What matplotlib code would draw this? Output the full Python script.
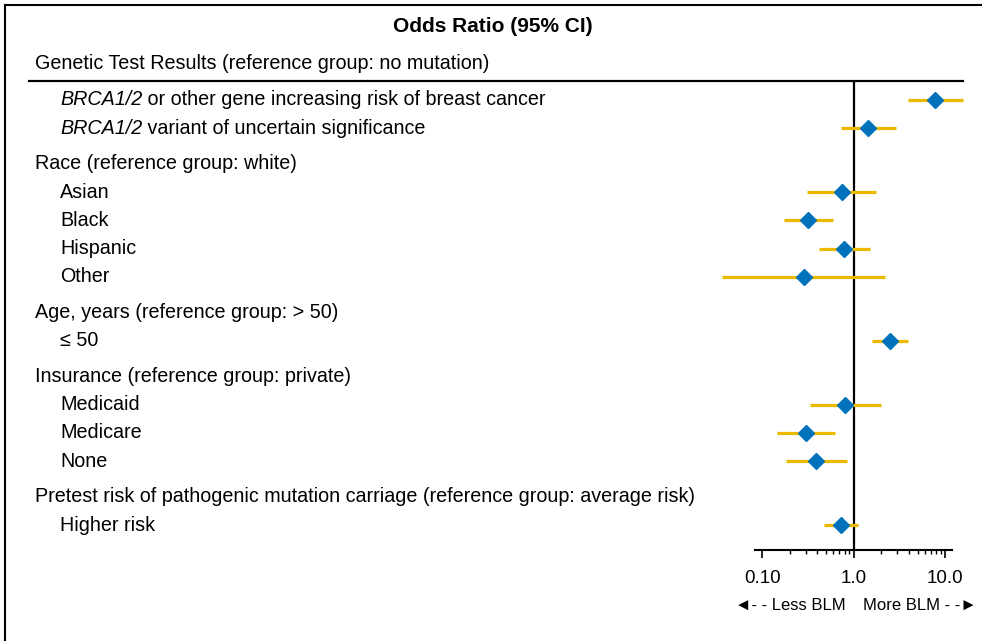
import matplotlib
matplotlib.use("Agg")
import matplotlib.pyplot as plt
import matplotlib.transforms as mtransforms
from matplotlib.lines import Line2D
from matplotlib.ticker import FixedLocator, NullFormatter

plt.rcParams['font.family'] = ['Liberation Sans', 'DejaVu Sans']

# groups with their items, odds ratio and 95% CI
group_titles = [
    "Genetic Test Results (reference group: no mutation)",
    "Race (reference group: white)",
    "Age, years (reference group: > 50)",
    "Insurance (reference group: private)",
    "Pretest risk of pathogenic mutation carriage (reference group: average risk)",
]
# (italic part, plain part)
group_items = [
    [("BRCA1/2", " or other gene increasing risk of breast cancer"),
     ("BRCA1/2", " variant of uncertain significance")],
    [("", "Asian"), ("", "Black"), ("", "Hispanic"), ("", "Other")],
    [("", "\u2264 50")],
    [("", "Medicaid"), ("", "Medicare"), ("", "None")],
    [("", "Higher risk")],
]
odds_ratio = [7.7, 1.44, 0.74, 0.32, 0.79, 0.284, 2.49, 0.80, 0.30, 0.39, 0.73]
ci_low = [3.9, 0.72, 0.31, 0.173, 0.42, 0.036, 1.6, 0.33, 0.145, 0.18, 0.47]
ci_high = [15.5, 2.9, 1.75, 0.59, 1.51, 2.22, 3.92, 1.99, 0.625, 0.845, 1.12]
tick_vals = [0.1, 1.0, 10.0]
tick_labels = ["0.10", "1.0", "10.0"]

W, H = 982, 641
fig = plt.figure(figsize=(W / 100, H / 100), dpi=100)

def fx(px):
    return px / W

def fy(py):
    return 1 - py / H

# plot area (pixel box), forest on a log axis
ax_left, ax_right, ax_top, ax_bot = 700, 975, 82, 550
ax = fig.add_axes([fx(ax_left), fy(ax_bot), fx(ax_right - ax_left), (ax_bot - ax_top) / H])
ax.set_xscale("log")
ax.set_xlim(0.0209, 21.2)

# vertical row positions
header_pos = []
item_pos = []
pos = 0.0
for g, items in enumerate(group_items):
    if g == 0:
        header_pos.append(-1.31)
    else:
        pos += 1.27
        header_pos.append(pos)
        pos += 1.0
    for k, _ in enumerate(items):
        item_pos.append(pos)
        if k < len(items) - 1:
            pos += 1.0
ax.set_ylim(15.96, -0.638)

gold = "#EDB800"
blue = "#0072BC"
ax.hlines(item_pos, ci_low, ci_high, color=gold, lw=2.3, zorder=2)
ax.plot(odds_ratio, item_pos, linestyle="none", marker="D", ms=7.8, color=blue, zorder=3)
ax.axvline(1.0, color="black", lw=1.6, zorder=1)

for s in ["top", "left", "right"]:
    ax.spines[s].set_visible(False)
ax.spines["bottom"].set_linewidth(1.5)
ax.spines["bottom"].set_bounds(0.0835, 11.9)
ax.set_yticks([])
ax.xaxis.set_major_locator(FixedLocator(tick_vals))
ax.set_xticklabels(tick_labels, fontsize=13.5)
minors = [m * d for d in [0.1, 1.0] for m in range(2, 10)]
ax.xaxis.set_minor_locator(FixedLocator(minors))
ax.xaxis.set_minor_formatter(NullFormatter())
ax.tick_params(axis="x", which="major", length=5.5, width=1.2, pad=9)
ax.tick_params(axis="x", which="minor", length=3, width=1.0)
ax.set_facecolor("none")

fs = 14.2
# labels on the left
trans = mtransforms.blended_transform_factory(fig.transFigure, ax.transData)
for t, yv in zip(group_titles, header_pos):
    ax.text(fx(35), yv, t, transform=trans, fontsize=fs, va="center", ha="left", clip_on=False)

fig.canvas.draw()
renderer = fig.canvas.get_renderer()
labels = [lab for items in group_items for lab in items]
for (ital, plain), yv in zip(labels, item_pos):
    shift = 0
    if ital:
        t1 = ax.text(fx(60), yv, ital, transform=trans, fontsize=fs, style="italic",
                     va="center", ha="left", clip_on=False)
        shift = t1.get_window_extent(renderer).width
    tr2 = trans + mtransforms.ScaledTranslation(shift / 100, 0, fig.dpi_scale_trans)
    ax.text(fx(60), yv, plain, transform=tr2, fontsize=fs, va="center", ha="left", clip_on=False)

# title, rules and frame
fig.text(fx(493), fy(27), "Odds Ratio (95% CI)", fontsize=15, fontweight="bold", ha="center", va="center")
fig.add_artist(Line2D([fx(29), fx(963)], [fy(81), fy(81)], color="black", lw=1.6))
fig.add_artist(Line2D([fx(5), fx(5)], [0, fy(5)], color="black", lw=1.5))
fig.add_artist(Line2D([fx(5), 1], [fy(5), fy(5)], color="black", lw=1.5))

fig.text(fx(735), fy(605), "\u25C4- - Less BLM", fontsize=12, ha="left", va="center")
fig.text(fx(977), fy(605), "More BLM - -\u25BA", fontsize=12, ha="right", va="center")

fig.savefig("out.png", dpi=100)
